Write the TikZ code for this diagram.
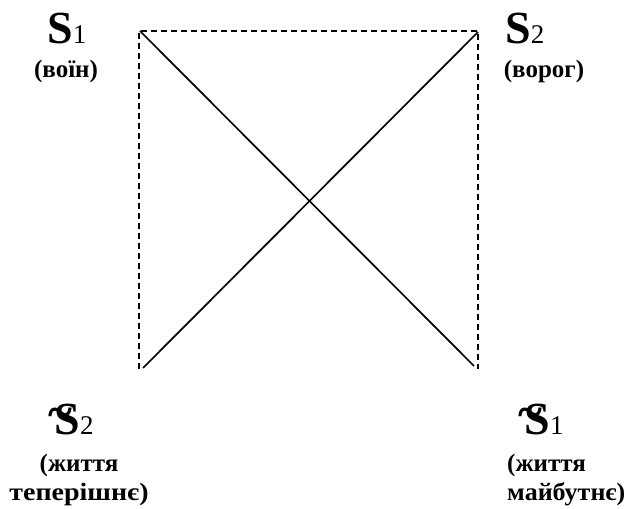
\documentclass[tikz,border=0pt]{standalone}
\usepackage{fontspec}
\setmainfont{Liberation Serif}
\begin{document}
\begin{tikzpicture}[x=1pt,y=1pt,
  dashline/.style={draw,dash pattern=on 6pt off 4pt,line width=1.4pt},
  diag/.style={draw,line width=1.7pt},
  bigS/.style={font=\bfseries\fontsize{46}{48}\selectfont,inner sep=0pt,anchor=base west},
  lbl/.style={font=\bfseries\fontsize{25}{28.5}\selectfont,inner sep=0pt,align=center}]
\useasboundingbox (0,0) rectangle (628,508);
\newcommand{\sub}[1]{{\mdseries\fontsize{27}{27}\selectfont #1}}
\newcommand{\negS}{\raisebox{0.16em}{\textasciitilde}\kern-0.38em S}
% corners
\coordinate (tl) at (139,477);
\coordinate (tr) at (478,477);
\coordinate (bl) at (139,139);
\coordinate (br) at (478,139);
\coordinate (tld) at (140,477);
\coordinate (brd) at (474,142);
\coordinate (bld) at (143,140);
\coordinate (trd) at (478,476);
\draw[dashline] (bl) -- (tl) -- (tr) -- (br);
\draw[diag] (tld) -- (brd);
\draw[diag] (bld) -- (trd);
% labels
\node[bigS] (s1) at (47,464) {S\sub{1}};
\node[lbl,anchor=base] (w1) at (66,430) {(воїн)};
\node[bigS] (s2) at (505,464) {S\sub{2}};
\node[lbl,anchor=base] (w2) at (544,430) {(ворог)};
\node[bigS] (ns2) at (48,73) {\negS\sub{2}};
\node[lbl,anchor=north] (w3) at (79,54) {(життя\\\scalebox{1.12}[1]{теперішнє)}};
\node[bigS] (ns1) at (518,73) {\negS\sub{1}};
\node[lbl,anchor=north west,align=left] (w4) at (507,54) {(життя\\\scalebox{1.04}[1]{майбутнє)}};
\end{tikzpicture}
\end{document}
